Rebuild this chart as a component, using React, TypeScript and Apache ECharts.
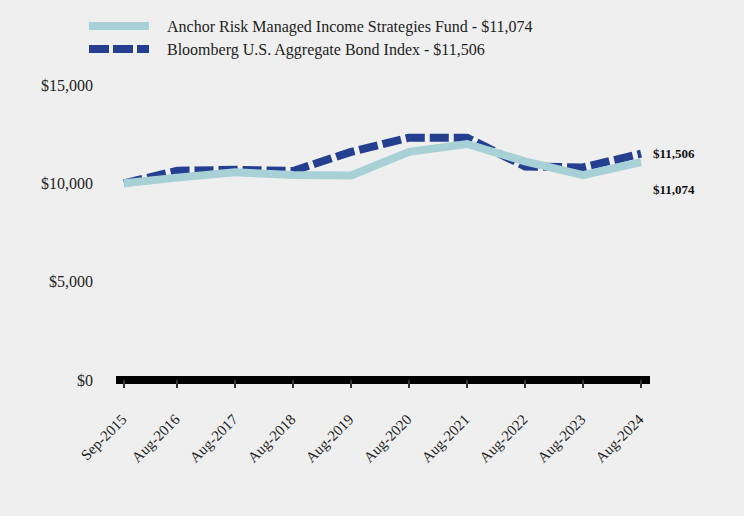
import React, { useEffect, useRef } from "react";
import * as echarts from "echarts";

const dateLabels = ["Sep-2015", "Aug-2016", "Aug-2017", "Aug-2018", "Aug-2019", "Aug-2020", "Aug-2021", "Aug-2022", "Aug-2023", "Aug-2024"];
// months elapsed since Sep-2015 for each date label
const monthOffsets = [0, 11, 23, 35, 47, 59, 71, 83, 95, 107];
const fundValues = [10000, 10290, 10560, 10420, 10400, 11600, 12000, 11120, 10420, 11074];
const indexValues = [10000, 10640, 10690, 10630, 11600, 12320, 12320, 10860, 10810, 11506];
const yTicks = [0, 5000, 10000, 15000];

const fundName = "Anchor Risk Managed Income Strategies Fund - $11,074";
const indexName = "Bloomberg U.S. Aggregate Bond Index - $11,506";

const SERIF = "'Liberation Serif', 'Times New Roman', serif";

const fmt = (v: number) => "$" + v.toLocaleString("en-US");

const solidIcon = "path://M0,0H60V8H0Z";
const dashedIcon = "path://M0,0H20V8H0Z M24,0H44V8H24Z M48,0H60V8H48Z";

export default function App() {
  const ref = useRef<HTMLDivElement>(null);
  useEffect(() => {
    if (!ref.current) return;
    const chart = echarts.init(ref.current, null, { renderer: "svg" });
    const labelFor = (v: number) => {
      const i = monthOffsets.indexOf(Math.round(v));
      return i >= 0 ? dateLabels[i] : "";
    };
    chart.setOption({
      animation: false,
      backgroundColor: "#EFEFEF",
      grid: { left: 116, right: 94, top: 85, bottom: 136, containLabel: false },
      legend: {
        orient: "vertical",
        left: 84,
        top: 13,
        itemWidth: 60,
        itemHeight: 8,
        itemGap: 7,
        data: [
          { name: fundName, icon: solidIcon },
          { name: indexName, icon: dashedIcon },
        ],
        textStyle: { fontFamily: SERIF, fontSize: 16, color: "#222", padding: [0, 0, 0, 13] },
      },
      xAxis: {
        type: "value",
        min: -1.66,
        max: 108.86,
        axisLine: { show: true, lineStyle: { color: "#000", width: 8, cap: "butt" } },
        axisTick: { show: true, customValues: monthOffsets, length: 8, lineStyle: { color: "#333", width: 2 } },
        axisLabel: {
          customValues: monthOffsets,
          rotate: 45,
          margin: 37,
          formatter: (v: number) => labelFor(v),
          fontFamily: SERIF,
          fontSize: 15,
          color: "#222",
        },
        splitLine: { show: false },
      },
      yAxis: {
        type: "value",
        min: yTicks[0],
        max: yTicks[yTicks.length - 1],
        interval: 5000,
        axisLine: { show: false },
        axisTick: { show: false },
        splitLine: { show: false },
        axisLabel: { formatter: (v: number) => fmt(v), fontFamily: SERIF, fontSize: 16, color: "#222", margin: 23 },
      },
      series: [
        {
          name: fundName,
          type: "line",
          z: 3,
          symbol: "none",
          data: monthOffsets.map((m, i) => [m, fundValues[i]]),
          color: "#A8D1D7",
          lineStyle: { color: "#A8D1D7", width: 8, cap: "butt", join: "miter" },
          endLabel: {
            show: true,
            formatter: () => fmt(fundValues[fundValues.length - 1]),
            fontFamily: SERIF,
            fontWeight: "bold",
            fontSize: 13,
            color: "#111",
            distance: 0,
            offset: [12, 27],
          },
        },
        {
          name: indexName,
          type: "line",
          z: 2,
          symbol: "none",
          data: monthOffsets.map((m, i) => [m, indexValues[i]]),
          color: "#243F8F",
          lineStyle: { color: "#243F8F", width: 8, type: [19, 5], cap: "butt", join: "miter" },
          endLabel: {
            show: true,
            formatter: () => fmt(indexValues[indexValues.length - 1]),
            fontFamily: SERIF,
            fontWeight: "bold",
            fontSize: 13,
            color: "#111",
            distance: 0,
            offset: [12, 0],
          },
        },
      ],
    });
    return () => chart.dispose();
  }, []);
  return <div ref={ref} style={{ position: "fixed", left: 0, top: 0, width: 744, height: 516 }} />;
}
